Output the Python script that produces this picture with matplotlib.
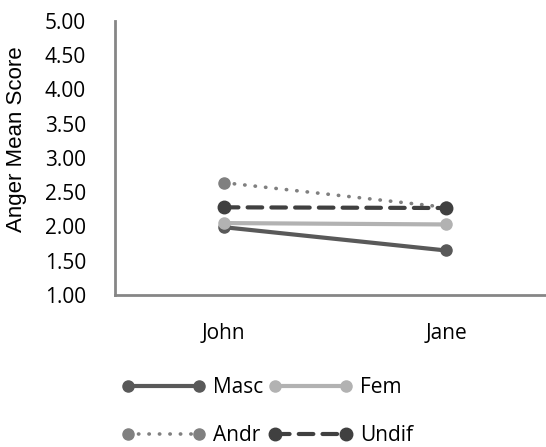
import matplotlib.pyplot as plt

# data
targets = ['John', 'Jane']
masc = [1.99, 1.65]
fem = [2.05, 2.03]
andr = [2.64, 2.28]
undif = [2.28, 2.27]

fig = plt.figure(figsize=(5.46, 4.47), dpi=100)
ax = fig.add_axes([115/546, 1 - 295/447, (546 - 115)/546, (295 - 21)/447])

x = range(len(targets))
lw = 3
l1, = ax.plot(x, masc, '-', color='#595959', lw=lw, marker='o', ms=8, label='Masc',
              solid_capstyle='round')
l2, = ax.plot(x, fem, '-', color='#b2b2b2', lw=lw, marker='o', ms=8, label='Fem',
              solid_capstyle='round')
l3, = ax.plot(x, andr, color='#808080', lw=2.6, ls=(0, (0.1, 2.8)), marker='o', ms=8,
              label='Andr', dash_capstyle='round')
l4, = ax.plot(x, undif, color='#404040', lw=lw, ls=(0, (3.5, 2.2)), marker='o', ms=9,
              label='Undif', dash_capstyle='round')

ax.set_ylim(1, 5)
ax.set_yticks([1, 1.5, 2, 2.5, 3, 3.5, 4, 4.5, 5])
ax.set_yticklabels(['%.2f' % v for v in ax.get_yticks()], family='Open Sans', fontsize=15)
ax.set_xlim(-0.49, 1.45)
ax.set_xticks(list(x))
ax.set_xticklabels(targets, family='Open Sans', fontsize=15)
ax.tick_params(length=0)
ax.tick_params(axis='y', pad=21)
ax.tick_params(axis='x', pad=20)

for s in ['top', 'right']:
    ax.spines[s].set_visible(False)
for s in ['left', 'bottom']:
    ax.spines[s].set_color('#868686')
    ax.spines[s].set_linewidth(2)

ax.set_ylabel('Anger Mean Score', family='Liberation Sans', fontsize=16)
ax.yaxis.set_label_coords(-0.205, 0.57)

# legend fills by column, so reorder to get Masc Fem / Andr Undif in rows
fig.legend([l1, l3, l2, l4], ['Masc', 'Andr', 'Fem', 'Undif'],
           loc='lower center', bbox_to_anchor=(0.49, -0.04), ncol=2, numpoints=2,
           frameon=False, handlelength=4.0, handletextpad=0.4,
           columnspacing=0.25, labelspacing=1.3,
           prop={'family': 'Open Sans', 'size': 15})

fig.savefig('out.png')
